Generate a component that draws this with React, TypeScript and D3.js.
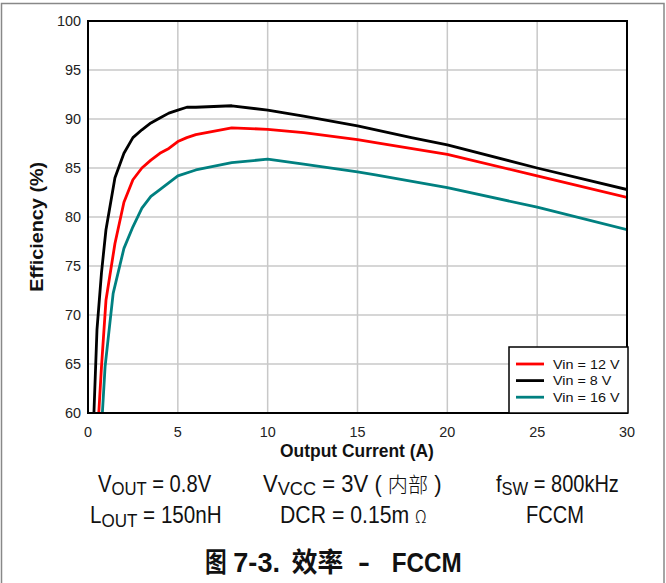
import React, { useLayoutEffect, useRef, useState } from "react";
import * as d3 from "d3";

const xTicks = [0, 5, 10, 15, 20, 25, 30];
const yTicks = [60, 65, 70, 75, 80, 85, 90, 95, 100];

const vin12: [number, number][] = [
  [0.6, 60], [0.75, 64.7], [1.0, 71.5], [1.5, 77.3], [2.0, 81.5], [2.5, 83.8], [3.0, 85.0],
  [3.5, 85.8], [4.0, 86.5], [4.5, 87.0], [5.0, 87.7], [5.5, 88.1], [6.0, 88.4], [8, 89.1],
  [10, 88.95], [12, 88.6], [15, 87.9], [16, 87.6], [20, 86.4], [25, 84.2], [30, 82.0],
];
const vin8: [number, number][] = [
  [0.33, 60], [0.5, 68.5], [0.75, 74.3], [1.0, 78.7], [1.5, 84.0], [2.0, 86.5], [2.5, 88.1],
  [3.0, 88.9], [3.5, 89.6], [4.0, 90.1], [4.5, 90.6], [5.0, 90.9], [5.5, 91.2], [6, 91.2],
  [8, 91.35], [10, 90.9], [12, 90.3], [15, 89.3], [18, 88.1], [20, 87.35], [25, 85.0], [30, 82.8],
];
const vin16: [number, number][] = [
  [0.8, 60], [0.95, 64.7], [1.4, 72.2], [2.0, 76.8], [2.5, 79.0], [3.0, 80.9], [3.5, 82.1],
  [4.0, 82.8], [5.0, 84.2], [6.0, 84.8], [8, 85.55], [10, 85.9], [12, 85.4], [15, 84.6],
  [16, 84.3], [20, 83.0], [25, 81.0], [30, 78.7],
];

const seriesNames = ["Vin = 12 V", "Vin = 8 V", "Vin = 16 V"];
const seriesData = [vin12, vin8, vin16];
const seriesColors = ["#ff0000", "#000000", "#008080"];

const font = "Arial, 'Liberation Sans', sans-serif";
const cjk = "'Noto Sans CJK SC', sans-serif";

type FitProps = {
  x0: number;
  x1: number;
  y: number;
  size: number;
  weight?: string | number;
  family?: string;
  pre?: string;
  children: React.ReactNode;
};

// Text stretched horizontally to span [x0, x1] with its baseline at y
function Fit({ x0, x1, y, size, weight = "normal", family = font, pre = "", children }: FitProps) {
  const ref = useRef<SVGTextElement>(null);
  const [fit, setFit] = useState({ sx: 1, bx: 0 });
  useLayoutEffect(() => {
    if (!ref.current) return;
    const b = ref.current.getBBox();
    if (b.width > 0) setFit({ sx: (x1 - x0) / b.width, bx: b.x });
  }, [x0, x1]);
  return (
    <g transform={`${pre} translate(${x0 - fit.bx * fit.sx},${y}) scale(${fit.sx},1)`}>
      <text ref={ref} x={0} y={0} fontFamily={family} fontSize={size} fontWeight={weight} fill="#111">
        {children}
      </text>
    </g>
  );
}

export default function App() {
  const left = 88, right = 627, top = 21, bottom = 413;
  const x = d3.scaleLinear().domain([0, 30]).range([left, right]);
  const y = d3.scaleLinear().domain([60, 100]).range([bottom, top]);
  const line = d3.line<[number, number]>().x((d) => x(d[0])).y((d) => y(d[1]));

  const sub = (s: string, size: number) => (
    <>
      <tspan fontSize={size} dy={3.5}>{s}</tspan>
    </>
  );

  return (
    <svg width={666} height={583} style={{ position: "absolute", left: 0, top: 0, background: "#fff" }}>
      <rect x={1.5} y={3.5} width={662.5} height={600} fill="#fff" stroke="#888" strokeWidth={1.5} />
      <defs>
        <clipPath id="plotclip">
          <rect x={left} y={top} width={right - left} height={bottom - top} />
        </clipPath>
      </defs>
      {xTicks.map((t) => (
        <line key={"gx" + t} x1={x(t)} x2={x(t)} y1={top} y2={bottom} stroke="#c8c8c8" strokeWidth={1.5} />
      ))}
      {yTicks.map((t) => (
        <line key={"gy" + t} x1={left} x2={right} y1={y(t)} y2={y(t)} stroke="#c8c8c8" strokeWidth={1.5} />
      ))}
      <g clipPath="url(#plotclip)">
        {seriesData.map((d, i) => (
          <path key={i} d={line(d) || ""} fill="none" stroke={seriesColors[i]} strokeWidth={2.8} strokeLinejoin="round" />
        ))}
      </g>
      <rect x={left} y={top} width={right - left} height={bottom - top} fill="none" stroke="#000" strokeWidth={2} />
      {yTicks.map((t) => (
        <text key={"ty" + t} x={81} y={y(t) + 5.2} textAnchor="end" fontFamily={font} fontSize={14.4} fill="#222">
          {t}
        </text>
      ))}
      {xTicks.map((t) => (
        <text key={"tx" + t} x={x(t)} y={436.5} textAnchor="middle" fontFamily={font} fontSize={14.4} fill="#222">
          {t}
        </text>
      ))}
      <Fit x0={280} x1={434} y={456.5} size={17.5} weight="bold">Output Current (A)</Fit>
      <Fit x0={0} x1={130} y={0} size={18} weight="bold" pre="translate(43,291.7) rotate(-90)">Efficiency (%)</Fit>
      {/* legend */}
      <rect x={509} y={347} width={119} height={66} fill="#fff" stroke="#000" strokeWidth={1.5} />
      {seriesNames.map((n, i) => {
        const ly = 364 + i * 16.6;
        return (
          <g key={n}>
            <line x1={516} x2={544} y1={ly} y2={ly} stroke={seriesColors[i]} strokeWidth={2.8} />
            <Fit x0={553} x1={i === 1 ? 611.7 : 620} y={ly + 4.6} size={13}>{n}</Fit>
          </g>
        );
      })}
      {/* conditions */}
      <Fit x0={98} x1={211.7} y={491.7} size={23}>
        V{sub("OUT", 19)}<tspan dy={-3.5}> = 0.8V</tspan>
      </Fit>
      <Fit x0={263} x1={441.7} y={491.7} size={23}>
        V{sub("VCC", 19)}<tspan dy={-3.5}> = 3V ( </tspan>
        <tspan fontFamily={cjk} fontWeight={300} fontSize={21}>内部</tspan>
        <tspan> )</tspan>
      </Fit>
      <Fit x0={496} x1={619} y={491.7} size={23}>
        f{sub("SW", 19)}<tspan dy={-3.5}> = 800kHz</tspan>
      </Fit>
      <Fit x0={90} x1={221.7} y={523.3} size={23}>
        L{sub("OUT", 19)}<tspan dy={-3.5}> = 150nH</tspan>
      </Fit>
      <Fit x0={280} x1={426.7} y={523.3} size={23}>
        DCR = 0.15m <tspan fontFamily={cjk} fontWeight={300} fontSize={17}>Ω</tspan>
      </Fit>
      <Fit x0={526} x1={584} y={523.3} size={23}>FCCM</Fit>
      {/* caption */}
      <Fit x0={205} x1={226.7} y={572.3} size={27} family={cjk} weight="bold">图</Fit>
      <Fit x0={233.3} x1={280} y={572.3} size={28.5} weight="bold">7-3.</Fit>
      <Fit x0={291.7} x1={343.3} y={572.3} size={27} family={cjk} weight="bold">效率</Fit>
      <Fit x0={358} x1={370} y={572.3} size={28.5} weight="bold">-</Fit>
      <Fit x0={391.7} x1={461.7} y={572.3} size={28.5} weight="bold">FCCM</Fit>
    </svg>
  );
}
